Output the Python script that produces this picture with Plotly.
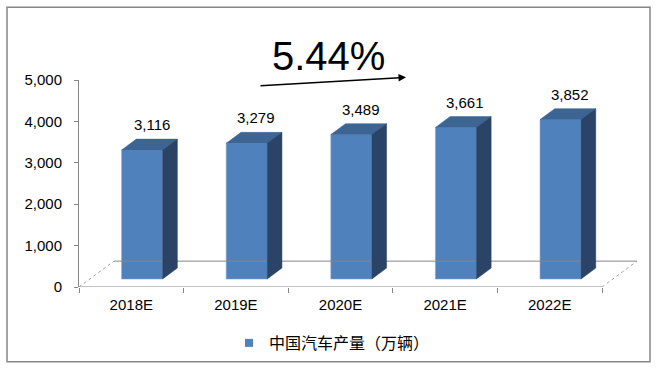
import plotly.graph_objects as go

# ---- data ----
categories = ["2018E", "2019E", "2020E", "2021E", "2022E"]
production = [3116, 3279, 3489, 3661, 3852]
series_name = "中国汽车产量（万辆）"
cagr_text = "5.44%"
y_ticks = [0, 1000, 2000, 3000, 4000, 5000]

# ---- geometry / style ----
W, H = 659, 371
L, R, T, B = 79, 637, 80, 288          # plot-area pixel box
X0, XUNIT = -0.5, 104.6                 # data x at left edge, px per category
YMAX = 5000
XMAX = X0 + (R - L) / XUNIT
PX_PER_Y = (B - T) / YMAX

DX = 35 / XUNIT          # full floor depth in x-data units
DY = 26 / PX_PER_Y       # full floor depth in y-data units
D0, D1 = 0.31, 0.73      # bar depth range (fraction of floor depth)
BAR_W = 41 / XUNIT

FRONT = "#4F81BD"
TOP = "#3C6594"
SIDE = "#2A4366"
AXIS = "#868686"
FONT = "Liberation Sans, Arial, Noto Sans CJK SC, sans-serif"


def paper_x(px):
    return (px - L) / (R - L)


def paper_y(py):
    return (B - py) / (B - T)


fig = go.Figure()

n = len(categories)
xs = list(range(n))

# floor: back edge and dotted sides
fig.add_trace(go.Scatter(
    x=[X0 + DX, n - 0.5 + DX], y=[DY, DY], mode="lines",
    line=dict(color=AXIS, width=1), hoverinfo="skip", showlegend=False))
fig.add_trace(go.Scatter(
    x=[X0, X0 + DX, None, n - 0.5, n - 0.5 + DX],
    y=[0, DY, None, 0, DY], mode="lines",
    line=dict(color="#A0A0A0", width=1, dash="dot"),
    hoverinfo="skip", showlegend=False))
# front axis line (on overlay axis carrying boundary ticks)
fig.add_trace(go.Scatter(
    x=[X0, n - 0.5], y=[0, 0], mode="lines", xaxis="x2",
    line=dict(color=AXIS, width=1), hoverinfo="skip", showlegend=False))

# bars: front faces
front_c = [c + D0 * DX for c in xs]
base = D0 * DY
fig.add_trace(go.Bar(
    x=front_c, y=production, base=base, width=BAR_W,
    marker=dict(color=FRONT, line=dict(color="#7A9FCF", width=0.6)),
    name=series_name, showlegend=False, hoverinfo="skip"))

dd = D1 - D0
for c, v in zip(front_c, production):
    xl, xr = c - BAR_W / 2, c + BAR_W / 2
    top = base + v
    # top face
    fig.add_trace(go.Scatter(
        x=[xl, xr, xr + dd * DX, xl + dd * DX, xl],
        y=[top, top, top + dd * DY, top + dd * DY, top],
        mode="lines", fill="toself", fillcolor=TOP,
        line=dict(color=TOP, width=0.5), hoverinfo="skip", showlegend=False))
    # side face
    fig.add_trace(go.Scatter(
        x=[xr, xr + dd * DX, xr + dd * DX, xr, xr],
        y=[base, base + dd * DY, top + dd * DY, top, base],
        mode="lines", fill="toself", fillcolor=SIDE,
        line=dict(color=SIDE, width=0.5), hoverinfo="skip", showlegend=False))

# legend proxy
fig.add_trace(go.Scatter(
    x=[None], y=[None], mode="markers", name=series_name,
    marker=dict(symbol="square", size=8, color=FRONT)))

# data labels
for c, v in zip(front_c, production):
    fig.add_annotation(
        x=c + dd * DX / 2 + 0.02, y=base + v + dd * DY,
        text=f"{v:,}", showarrow=False, yanchor="bottom", yshift=4,
        font=dict(size=15, color="#000000", family=FONT))

# CAGR text and arrow
fig.add_annotation(
    x=paper_x(328), y=paper_y(56), xref="paper", yref="paper",
    text=cagr_text, showarrow=False, xanchor="center", yanchor="middle",
    font=dict(size=40, color="#000000", family=FONT))
fig.add_annotation(
    x=paper_x(406), y=paper_y(77.3), xref="paper", yref="paper",
    text="", showarrow=True, arrowhead=2, arrowsize=1, arrowwidth=1.5,
    arrowcolor="#000000", ax=259 - 406, ay=85.7 - 77.3)

# outer border
fig.add_shape(type="rect", xref="paper", yref="paper",
              x0=paper_x(7), x1=paper_x(650), y0=paper_y(363), y1=paper_y(7),
              line=dict(color=AXIS, width=1.5), fillcolor="rgba(0,0,0,0)")

fig.update_layout(
    width=W, height=H,
    margin=dict(l=L, r=W - R, t=T, b=H - B, pad=0),
    paper_bgcolor="white", plot_bgcolor="white",
    font=dict(family=FONT, size=15, color="#000000"),
    separators=".,",
    showlegend=True,
    legend=dict(orientation="h", x=paper_x(229), y=paper_y(343),
                xanchor="left", yanchor="middle",
                font=dict(size=16, family=FONT), bgcolor="rgba(0,0,0,0)"),
    xaxis=dict(range=[X0, XMAX], tickvals=xs, ticktext=categories,
               showgrid=False, zeroline=False, showline=False, ticks="",
               ticklabelstandoff=7, tickfont=dict(size=15)),
    xaxis2=dict(range=[X0, XMAX], overlaying="x", side="bottom",
                tickvals=[i - 0.5 for i in range(n + 1)],
                showticklabels=False, ticks="outside", ticklen=5,
                tickcolor=AXIS, showgrid=False, zeroline=False, showline=False),
    yaxis=dict(range=[0, YMAX], tickvals=y_ticks, tickformat=",d",
               showgrid=False, zeroline=False, showline=True,
               linecolor=AXIS, linewidth=1, ticks="outside", ticklen=4,
               tickcolor=AXIS, ticklabelstandoff=9, tickfont=dict(size=15)),
)

fig.write_html("out.html",
               config={"displayModeBar": False},
               post_script="document.body.style.margin='0';"
                           "document.body.style.overflow='hidden';")
